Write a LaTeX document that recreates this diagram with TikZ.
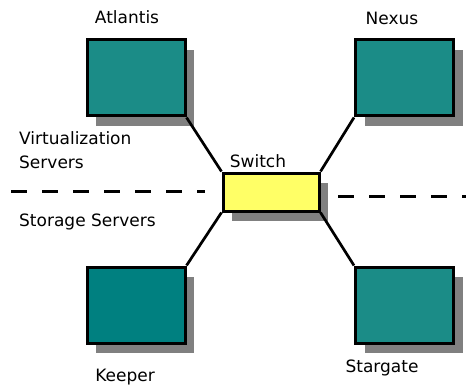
\documentclass[tikz,border=0pt]{standalone}
\usepackage{fontspec}
\setmainfont{DejaVu Sans}
\usetikzlibrary{shadows}
\definecolor{tealbox}{RGB}{27,140,135}
\definecolor{tealdark}{RGB}{0,128,128}
\definecolor{switchfill}{RGB}{255,255,102}
\definecolor{shade}{RGB}{128,128,128}
\tikzset{
  server/.style={draw=black, line width=3pt, fill=tealbox, minimum width=98pt, minimum height=76pt,
                 inner sep=0pt, drop shadow={shadow xshift=9pt, shadow yshift=-10pt, fill=shade, opacity=1}},
  hub/.style={server, fill=switchfill, minimum width=96pt, minimum height=38pt},
  tag/.style={font=\fontsize{17}{24}\selectfont, inner sep=0pt},
  link/.style={line width=2.7pt},
  split/.style={line width=3pt, dash pattern=on 15.5pt off 15.5pt},
}

\begin{document}
\begin{tikzpicture}[x=1pt,y=1pt]
    \useasboundingbox (0,0) rectangle (466,389);
    \node[server] (atl) at (136,311) {};
    \node[server] (nex) at (404.5,311) {};
    \node[server, fill=tealdark] (kee) at (136,84) {};
    \node[server] (sta) at (404.5,84) {};
    \node[hub] (sw) at (271,197) {};
    \node[tag] at (127,372) {Atlantis};
    \node[tag] at (392,371) {Nexus};
    \node[tag] at (258,228) {Switch};
    \node[tag] at (125,12) {Keeper};
    \node[tag] at (382,21) {Stargate};
    \node[tag, anchor=west, align=left] at (19,239) {Virtualization\\Servers};
    \node[tag, anchor=west] at (19,167) {Storage Servers};
    \coordinate (la) at (11,197.5);
    \coordinate (lb) at (205,197.5);
    \coordinate (ra) at (338,193);
    \coordinate (rb) at (466,193);
    \draw[split] (la) -- (lb);
    \draw[split] (ra) -- (rb);
    \draw[link] (atl.south east) -- (sw.north west);
    \draw[link] (nex.south west) -- (sw.north east);
    \draw[link] (kee.north east) -- (sw.south west);
    \draw[link] (sta.north west) -- (sw.south east);
\end{tikzpicture}
\end{document}
